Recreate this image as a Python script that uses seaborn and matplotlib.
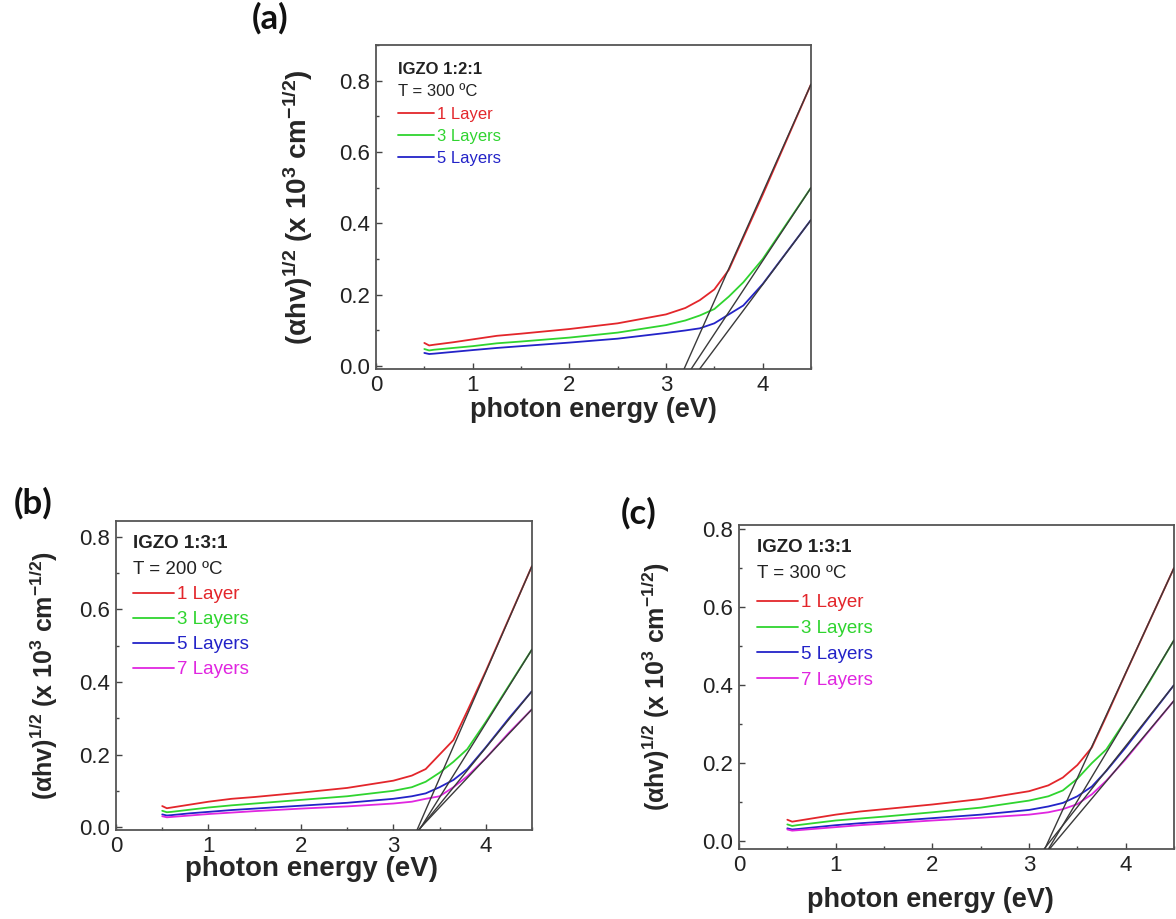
import numpy as np
import pandas as pd
import seaborn as sns
import matplotlib.pyplot as plt
from matplotlib.lines import Line2D
from matplotlib.ticker import MultipleLocator

# photon energy grid (eV)
energy = [0.5, 0.55, 0.6, 0.8, 1.0, 1.25, 1.5, 2.0, 2.5, 3.0, 3.2, 3.35, 3.5, 3.65, 3.8, 4.0, 4.25, 4.5]

# (a) IGZO 1:2:1, T = 300 C
a_1layer = [.065, .058, .060, .067, .075, .085, .091, .104, .120, .145, .163, .185, .215, .27, .36, .48, .635, .79]
a_3layers = [.048, .044, .046, .051, .056, .064, .069, .080, .094, .115, .128, .142, .160, .195, .235, .30, .40, .50]
a_5layers = [.037, .034, .035, .040, .045, .051, .056, .066, .077, .093, .100, .106, .120, .145, .17, .23, .32, .41]
a_fit_start = [3.2, 3.28, 3.37]

# (b) IGZO 1:3:1, T = 200 C
b_1layer = [.058, .052, .054, .062, .070, .078, .083, .095, .108, .128, .142, .160, .20, .24, .32, .43, .575, .72]
b_3layers = [.045, .041, .042, .048, .054, .060, .065, .075, .085, .100, .110, .125, .150, .18, .215, .29, .39, .49]
b_5layers = [.035, .032, .033, .038, .042, .047, .051, .059, .067, .078, .085, .093, .110, .13, .16, .22, .30, .375]
b_7layers = [.030, .027, .028, .032, .036, .040, .044, .051, .057, .065, .070, .078, .085, .11, .14, .19, .26, .325]
b_fit_start = [3.27, 3.3, 3.3, 3.3]

# (c) IGZO 1:3:1, T = 300 C
c_1layer = [.055, .050, .052, .060, .068, .076, .082, .094, .108, .128, .143, .163, .195, .24, .32, .43, .565, .70]
c_3layers = [.043, .039, .041, .047, .053, .058, .063, .074, .086, .104, .115, .130, .160, .20, .235, .31, .41, .515]
c_5layers = [.033, .030, .031, .036, .041, .046, .050, .059, .068, .080, .089, .098, .115, .14, .18, .24, .32, .40]
c_7layers = [.030, .027, .028, .032, .036, .041, .045, .053, .060, .068, .074, .082, .095, .12, .155, .21, .285, .36]
c_fit_start = [3.2, 3.25, 3.22, 3.28]

layer_names = ["1 Layer", "3 Layers", "5 Layers", "7 Layers"]
layer_colors = ["#e3262b", "#2fd42f", "#2323c8", "#e026e0"]

sns.set_theme(style="ticks")
plt.rcParams["font.family"] = ["Liberation Sans", "DejaVu Sans"]
plt.rcParams["mathtext.fontset"] = "custom"
plt.rcParams["mathtext.rm"] = "Liberation Sans:bold"
plt.rcParams["mathtext.bf"] = "Liberation Sans:bold"
plt.rcParams["mathtext.it"] = "Liberation Sans:bold"

FW, FH = 1176, 919
fig = plt.figure(figsize=(FW / 100, FH / 100), dpi=100)


def draw_panel(box, curves, fit_start, ylim, title, temp, fs, xlab_fs, ylab_fs,
               ylab_x, xlab_pos, text_px, leg_x, leg_space):
    left, right, top, bottom = box
    h = bottom - top
    ax = fig.add_axes([left / FW, 1 - bottom / FH, (right - left) / FW, h / FH])
    to_frac = lambda py: (bottom - py) / h

    n = len(curves)
    df = pd.DataFrame({
        "E": energy * n,
        "val": sum(curves, []),
        "layers": sum([[layer_names[i]] * len(energy) for i in range(n)], []),
    })
    sns.lineplot(data=df, x="E", y="val", hue="layers", palette=layer_colors[:n],
                 legend=False, errorbar=None, lw=1.3, ax=ax)
    # linear fits for the band gap, run down to the bottom of the axes
    for x0, cur in zip(fit_start, curves):
        slope = cur[-1] / (energy[-1] - x0)
        ax.plot([x0 + ylim[0] / slope, energy[-1]], [ylim[0], cur[-1]],
                color="#3a3a3a", lw=1.0, zorder=5)
    ax.set_xlim(0, 4.5)
    ax.set_ylim(*ylim)
    ax.xaxis.set_major_locator(MultipleLocator(1))
    ax.xaxis.set_minor_locator(MultipleLocator(0.5))
    ax.yaxis.set_major_locator(MultipleLocator(0.2))
    ax.yaxis.set_minor_locator(MultipleLocator(0.1))
    ax.yaxis.set_major_formatter(lambda v, p: f"{v:.1f}")
    ax.tick_params(which="both", direction="in", colors="#444444", labelcolor="#222222")
    ax.tick_params(which="major", length=4, width=1, labelsize=16, pad=4)
    ax.tick_params(which="minor", length=2.5, width=1)
    for s in ax.spines.values():
        s.set_color("#555555")
        s.set_linewidth(1.3)
    ax.set_xlabel("photon energy (eV)", fontsize=xlab_fs, fontweight="bold")
    ax.set_ylabel(r"($\alpha$hv)$^{1/2}$ (x 10$^{3}$ cm$^{-1/2}$)", fontsize=ylab_fs,
                  fontweight="bold")
    ax.xaxis.set_label_coords(*xlab_pos)
    ax.yaxis.set_label_coords(ylab_x, 0.5)

    ax.text(leg_x, to_frac(text_px[0]), title, transform=ax.transAxes, fontsize=fs,
            fontweight="bold", va="center", ha="left", color="#222222")
    ax.text(leg_x, to_frac(text_px[1]), temp, transform=ax.transAxes, fontsize=fs,
            va="center", ha="left", color="#222222")
    handles = [Line2D([], [], color=layer_colors[i], lw=1.3) for i in range(n)]
    ax.legend(handles, layer_names[:n], loc="upper left", frameon=False,
              bbox_to_anchor=(leg_x, to_frac(text_px[2])), borderpad=0, borderaxespad=0,
              fontsize=fs, labelcolor="linecolor", handlelength=2.2, handletextpad=0.15,
              labelspacing=leg_space)
    return ax


ax_a = draw_panel((376, 811, 45, 369), [a_1layer, a_3layers, a_5layers], a_fit_start,
                  (-0.008, 0.9), "IGZO 1:2:1", "T = 300 ºC", 12, 19.5, 20,
                  -0.14, (0.5, -0.085), (70, 92, 107), 0.05, 0.42)

ax_b = draw_panel((116, 532, 521, 830), [b_1layer, b_3layers, b_5layers, b_7layers],
                  b_fit_start, (-0.008, 0.844), "IGZO 1:3:1", "T = 200 ºC", 13.5, 20, 18,
                  -0.135, (0.47, -0.085), (543, 569, 586), 0.041, 0.42)

ax_c = draw_panel((739, 1174, 525, 849), [c_1layer, c_3layers, c_5layers, c_7layers],
                  c_fit_start, (-0.02, 0.81), "IGZO 1:3:1", "T = 300 ºC", 13.5, 19.5, 18,
                  -0.155, (0.44, -0.117), (548, 574, 594), 0.041, 0.47)

for label, (px, py) in zip(["(a)", "(b)", "(c)"], [(270, 18), (33, 503), (639, 513)]):
    fig.text(px / FW, 1 - py / FH, label, fontsize=25, fontweight="bold",
             family=["Lato", "DejaVu Sans"], ha="center", va="center", color="#111111")

fig.savefig("out.png", dpi=100, facecolor="white")
